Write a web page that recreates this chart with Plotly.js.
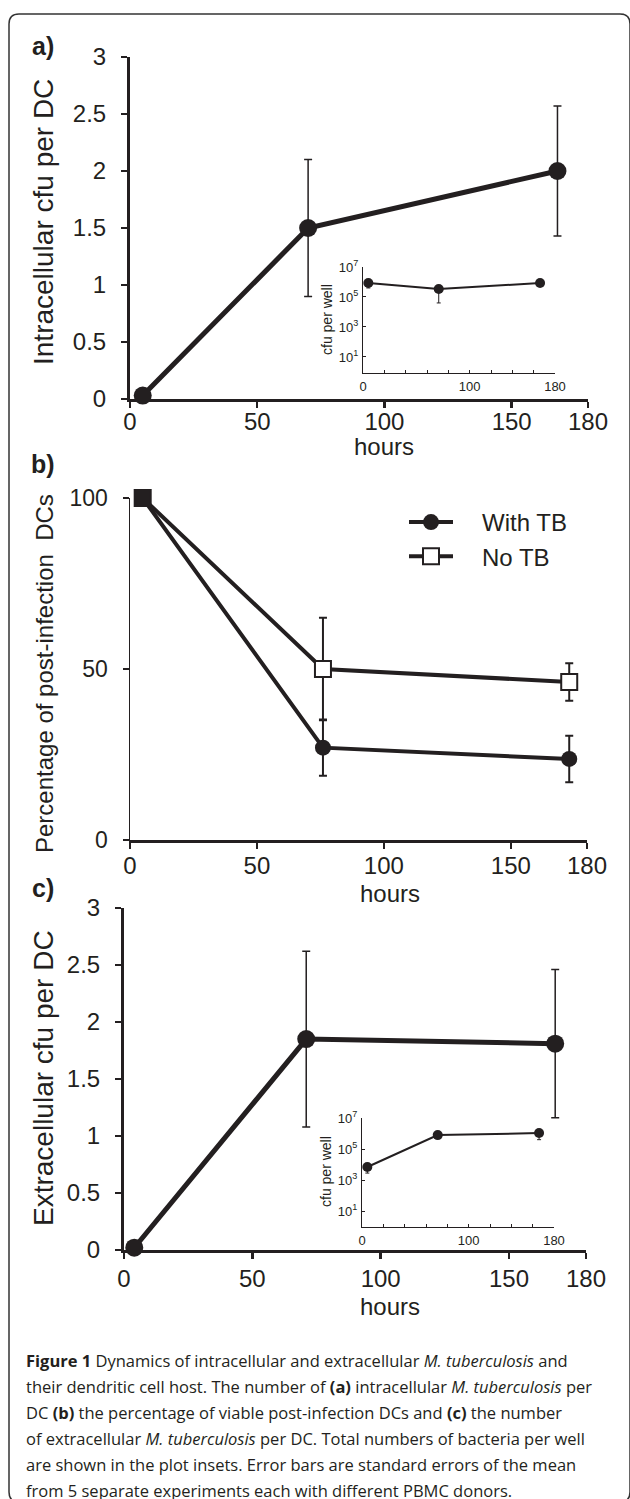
<!DOCTYPE html>
<html>
<head>
<meta charset="utf-8">
<script src="https://cdn.plot.ly/plotly-3.0.1.min.js"></script>
<style>
  html, body { margin: 0; padding: 0; background: #fff; }
  #chart { width: 630px; height: 1499px; }
</style>
</head>
<body>
<div id="chart"></div>
<script>
// ---------------- data ----------------
const hoursA = [5, 70, 168];
const cfuIntra = [0.03, 1.5, 2.0];
const cfuIntraErr = [0, 0.6, 0.57];

const hoursInsetA = [5, 71, 166];
const wellIntra = [8.5e5, 3.4e5, 8.5e5];
const wellIntraErrMinus = [4.5e5, 3.0e5, 0];

const hoursB = [5, 76, 173];
const withTB = [100, 27, 23.7];
const withTBErr = [0, 8.2, 6.8];
const noTB = [100, 50, 46.2];
const noTBErr = [0, 15, 5.5];

const hoursC = [4, 71, 168];
const cfuExtra = [0.02, 1.85, 1.81];
const cfuExtraErr = [0, 0.77, 0.65];

const hoursInsetC = [5, 71, 166];
const wellExtra = [6.9e3, 7.9e5, 1.07e6];
const wellExtraErrMinus = [4.1e3, 0, 6.7e5];

const cfuTicks = [0, 0.5, 1, 1.5, 2, 2.5, 3];
const cfuTickText = ['0', '0.5', '1', '1.5', '2', '2.5', '3'];
const hourTicks = [0, 50, 100, 150, 180];
const hourTickText = ['0', '50', '100', '150', '180'];
const pctTicks = [0, 50, 100];
const pctTickText = ['0', '50', '100'];
const insetHourTicks = [0, 20, 40, 60, 80, 100, 120, 140, 160, 180];
const insetHourText = ['0', '', '', '', '', '100', '', '', '', '180'];
const insetLogTicks = [10, 1e3, 1e5, 1e7];
const insetLogText = ['10<sup>1</sup>', '10<sup>3</sup>', '10<sup>5</sup>', '10<sup>7</sup>'];

const captionLines = [
  '<b>Figure 1</b> Dynamics of intracellular and extracellular <i>M. tuberculosis</i> and',
  'their dendritic cell host. The number of <b>(a)</b> intracellular <i>M. tuberculosis</i> per',
  'DC <b>(b)</b> the percentage of viable post-infection DCs and <b>(c)</b> the number',
  'of extracellular <i>M. tuberculosis</i> per DC. Total numbers of bacteria per well',
  'are shown in the plot insets. Error bars are standard errors of the mean',
  'from 5 separate experiments each with different PBMC donors.'
];

// ---------------- helpers ----------------
const W = 630, H = 1499;
const px = x => x / W;
const py = y => 1 - y / H;
const INK = '#231f20';
const FONT = 'Liberation Sans, Arial, sans-serif';

function mainAxis(domain, opts) {
  return Object.assign({
    domain: domain,
    showline: true, linecolor: INK, linewidth: 3,
    ticks: 'outside', ticklen: 6, tickwidth: 2.5, tickcolor: INK,
    showgrid: false, zeroline: false, fixedrange: true,
    tickfont: { family: FONT, size: 24, color: INK },
    tickmode: 'array'
  }, opts);
}
function insetAxis(domain, opts) {
  return Object.assign({
    domain: domain,
    showline: true, linecolor: INK, linewidth: 1,
    ticks: 'inside', ticklen: 3, tickwidth: 1, tickcolor: INK,
    showgrid: false, zeroline: false, fixedrange: true,
    tickfont: { family: FONT, size: 13, color: INK },
    tickmode: 'array', ticklabelstandoff: 1
  }, opts);
}

const traces = [
  // panel a
  { x: hoursA, y: cfuIntra, xaxis: 'x', yaxis: 'y', mode: 'lines+markers', showlegend: false,
    line: { color: INK, width: 5 }, marker: { color: INK, size: 18 }, cliponaxis: false,
    error_y: { type: 'data', array: cfuIntraErr, visible: true, color: INK, thickness: 1.5, width: 4 } },
  // inset a
  { x: hoursInsetA, y: wellIntra, xaxis: 'x2', yaxis: 'y2', mode: 'lines+markers', showlegend: false,
    line: { color: INK, width: 2 }, marker: { color: INK, size: 10 }, cliponaxis: false,
    error_y: { type: 'data', symmetric: false, array: [0, 0, 0], arrayminus: wellIntraErrMinus,
               visible: true, color: INK, thickness: 1, width: 2 } },
  // panel b
  { x: hoursB, y: withTB, name: '\u2002\u2002With TB', legendrank: 1, xaxis: 'x3', yaxis: 'y3', mode: 'lines+markers',
    line: { color: INK, width: 4 }, marker: { color: INK, size: 16, symbol: 'circle' }, cliponaxis: false,
    error_y: { type: 'data', array: withTBErr, visible: true, color: INK, thickness: 2, width: 4 } },
  { x: hoursB, y: noTB, name: 'No TB', showlegend: false, legendgroup: 'notb', xaxis: 'x3', yaxis: 'y3', mode: 'lines+markers',
    line: { color: INK, width: 4 },
    marker: { color: [INK, '#ffffff', '#ffffff'], size: 16, symbol: 'square', line: { color: INK, width: 2 } },
    cliponaxis: false,
    error_y: { type: 'data', array: noTBErr, visible: true, color: INK, thickness: 2, width: 4 } },
  // legend entry for No TB (no data of its own; mirrors the open squares)
  { x: [null], y: [null], name: '\u2002\u2002No TB', legendrank: 2, legendgroup: 'notb', xaxis: 'x3', yaxis: 'y3', mode: 'lines+markers',
    line: { color: INK, width: 4 },
    marker: { color: '#ffffff', size: 16, symbol: 'square', line: { color: INK, width: 2 } } },
  // panel c
  { x: hoursC, y: cfuExtra, xaxis: 'x4', yaxis: 'y4', mode: 'lines+markers', showlegend: false,
    line: { color: INK, width: 5 }, marker: { color: INK, size: 18 }, cliponaxis: false,
    error_y: { type: 'data', array: cfuExtraErr, visible: true, color: INK, thickness: 1.5, width: 4 } },
  // inset c
  { x: hoursInsetC, y: wellExtra, xaxis: 'x5', yaxis: 'y5', mode: 'lines+markers', showlegend: false,
    line: { color: INK, width: 2 }, marker: { color: INK, size: 10 }, cliponaxis: false,
    error_y: { type: 'data', symmetric: false, array: [0, 0, 0], arrayminus: wellExtraErrMinus,
               visible: true, color: INK, thickness: 1, width: 2 } }
];

function ann(text, x, y, size, extra) {
  return Object.assign({ text: text, x: px(x), y: py(y), xref: 'paper', yref: 'paper',
    xanchor: 'center', yanchor: 'middle', borderpad: 0,
    showarrow: false, font: { family: FONT, size: size, color: INK } }, extra || {});
}

const annotations = [
  ann('<b>a)</b>', 43, 46, 25),
  ann('<b>b)</b>', 43, 464, 25),
  ann('<b>c)</b>', 43, 888, 25),
  ann('Intracellular cfu per DC', 43, 222, 28, { textangle: -90 }),
  ann('Percentage of post-infection\u00a0\u00a0DCs', 44, 674, 24, { textangle: -90 }),
  ann('Extracellular cfu per DC', 43, 1078, 28, { textangle: -90 }),
  ann('hours', 384, 446, 24),
  ann('hours', 390, 893, 24),
  ann('hours', 390, 1306, 24),
  ann('cfu per well', 327, 320, 14, { textangle: -90 }),
  ann('cfu per well', 326, 1172, 14, { textangle: -90 })
];
captionLines.forEach((t, i) => {
  annotations.push(ann(t, 25, 1360 + i * 26, 16.5,
    { xanchor: 'left', align: 'left', font: { family: 'Open Sans, sans-serif', size: 16.5, color: INK } }));
});

// rounded border (right side falls off the page as in the reference)
const L = 9, T = 14, R = 630, B = 1502, r = 10;
const borderPath = [
  'M', px(L), py(T + r), 'Q', px(L), py(T), px(L + r), py(T),
  'L', px(R - r), py(T), 'Q', px(R), py(T), px(R), py(T + r),
  'L', px(R), py(B - r), 'Q', px(R), py(B), px(R - r), py(B),
  'L', px(L + r), py(B), 'Q', px(L), py(B), px(L), py(B - r), 'Z'
].join(' ');

const layout = {
  width: W, height: H,
  margin: { l: 0, r: 0, t: 0, b: 0 },
  paper_bgcolor: '#ffffff', plot_bgcolor: 'rgba(0,0,0,0)',
  font: { family: FONT, color: INK },
  showlegend: true,
  legend: {
    x: px(404), y: py(500), xanchor: 'left', yanchor: 'top',
    font: { family: FONT, size: 24, color: INK },
    bgcolor: 'rgba(0,0,0,0)', traceorder: 'normal', itemwidth: 44
  },
  xaxis: mainAxis([px(130), px(588)], { anchor: 'y', range: [0, 180], tickvals: hourTicks, ticktext: hourTickText, ticklabelstandoff: -7 }),
  yaxis: mainAxis([py(399), py(57)], { anchor: 'x', range: [0, 3], tickvals: cfuTicks, ticktext: cfuTickText, ticklabelstandoff: 10 }),
  xaxis2: insetAxis([px(363), px(555)], { anchor: 'y2', range: [0, 180], tickvals: insetHourTicks, ticktext: insetHourText }),
  yaxis2: insetAxis([py(373), py(267)], { anchor: 'x2', type: 'log', range: [-0.07, 7], tickvals: insetLogTicks, ticktext: insetLogText }),
  xaxis3: mainAxis([px(130), px(587)], { anchor: 'y3', range: [0, 180], tickvals: hourTicks, ticktext: hourTickText, linewidth: 2.5, ticklabelstandoff: -3 }),
  yaxis3: mainAxis([py(840), py(498)], { anchor: 'x3', range: [0, 100], tickvals: pctTicks, ticktext: pctTickText, linewidth: 1.5, ticklabelstandoff: 10, tickfont: { family: FONT, size: 23, color: INK } }),
  xaxis4: mainAxis([px(124), px(586)], { anchor: 'y4', range: [0, 180], tickvals: hourTicks, ticktext: hourTickText, ticklabelstandoff: -1 }),
  yaxis4: mainAxis([py(1250), py(908)], { anchor: 'x4', range: [0, 3], tickvals: cfuTicks, ticktext: cfuTickText, ticklabelstandoff: 10 }),
  xaxis5: insetAxis([px(362), px(554)], { anchor: 'y5', range: [0, 180], tickvals: insetHourTicks, ticktext: insetHourText }),
  yaxis5: insetAxis([py(1227), py(1118)], { anchor: 'x5', type: 'log', range: [-0.03, 7], tickvals: insetLogTicks, ticktext: insetLogText }),
  annotations: annotations,
  shapes: [{ type: 'path', xref: 'paper', yref: 'paper', path: borderPath,
             line: { color: '#333333', width: 1.5 }, fillcolor: 'rgba(0,0,0,0)', layer: 'above' }]
};

Plotly.newPlot('chart', traces, layout, { displayModeBar: false, staticPlot: true });
</script>
</body>
</html>
